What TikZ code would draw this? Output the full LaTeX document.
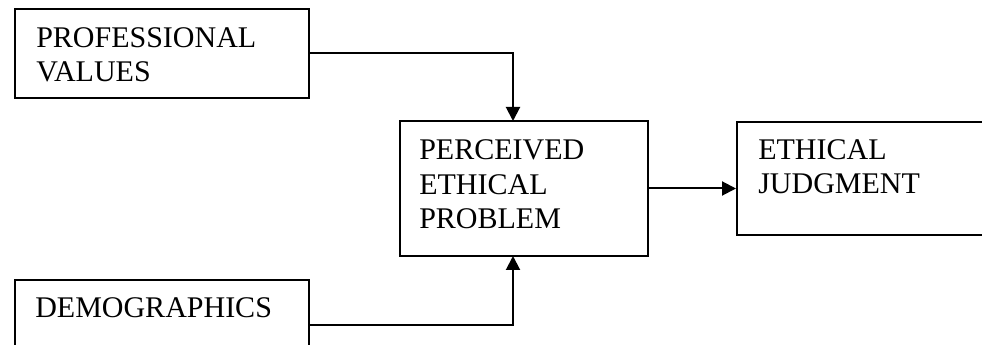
\documentclass[tikz,border=0pt]{standalone}
\usepackage{fontspec}
\setmainfont{Liberation Serif}
\usetikzlibrary{arrows.meta}

\begin{document}
\begin{tikzpicture}[line join=miter,>={Triangle[length=10.5pt,width=10.5pt]},x=0.75pt,y=-0.75pt,
  box/.style={draw,line width=1.5pt,inner sep=0pt},
  lbl/.style={anchor=base west,align=left,inner sep=0pt,font=\fontsize{22.5}{25.9}\selectfont},
  link/.style={->,line width=1.5pt}]
\useasboundingbox (0,0) rectangle (982,345);
\clip (0,0) rectangle (982,345);
% boxes
\node[box,minimum width=220.5pt,minimum height=66.75pt] (prof) at (162,53.5) {};
\node[box,minimum width=220.5pt,minimum height=67.5pt] (demo) at (162,325) {};
\node[box,minimum width=186pt,minimum height=101.25pt] (perc) at (524,188.5) {};
\node[box,minimum width=204.75pt,minimum height=84.75pt] (judg) at (873.5,178.5) {};
% texts (base = last line)
\node[lbl] (proft) at (36,82) {PROFESSIONAL\\VALUES};
\node[lbl] (demot) at (35,318) {DEMOGRAPHICS};
\node[lbl] (perct) at (419,229) {PERCEIVED\\ETHICAL\\PROBLEM};
\node[lbl] (judgt) at (758,194) {ETHICAL\\JUDGMENT};
% arrows
\coordinate (ptop) at (513,121);
\coordinate (pbot) at (513,256);
\draw[link] (prof.east) -| (ptop);
\draw[link] (demo.east) -| (pbot);
\draw[link] (perc.east) -- (perc.east -| judg.west);
\end{tikzpicture}
\end{document}
